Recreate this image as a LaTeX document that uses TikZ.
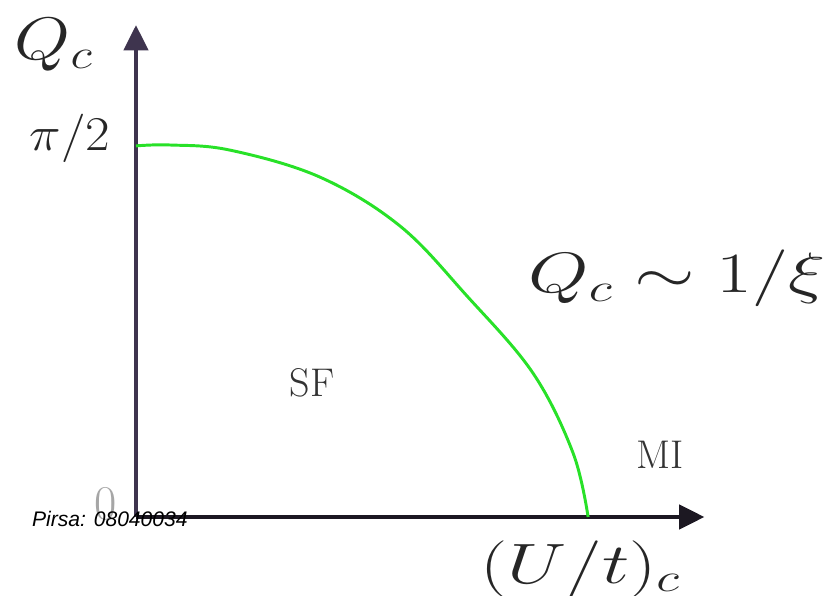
\RequirePackage{fix-cm}
\documentclass[tikz,border=0pt]{standalone}
\usepackage{amsmath, amssymb}
\usepackage{fontspec}
\usepackage{tikz}
\usetikzlibrary{calc, positioning, arrows.meta}
\newfontfamily\pirsafont{Liberation Sans}
\definecolor{axisV}{RGB}{62, 52, 78}
\definecolor{axisH}{RGB}{28, 24, 34}
\definecolor{border}{RGB}{40, 225, 40}
\tikzset{
  axis/.style={line width=4.5pt, -{Triangle[length=0.85cm, width=0.8cm]}},
  biglabel/.style={font=\fontsize{54}{60}\selectfont, inner sep=0pt, text=black!85},
  ticklabel/.style={font=\fontsize{46}{50}\selectfont, inner sep=0pt, text=black!85},
  phase/.style={font=\fontsize{38}{42}\selectfont, inner sep=0pt, text=black!80},
}

\begin{document}
\begin{tikzpicture}[>=Stealth]
  \useasboundingbox (-4.533, -2.6) rectangle (23.1, 17.233);

  % axes
  \coordinate (O) at (0, 0);
  \coordinate (ytop) at (0, 16.4);
  \coordinate (xend) at (18.95, 0);
  \draw[axis, axisV] (O) -- (ytop);
  \draw[axis, axisH] (O) -- (xend);

  % phase boundary
  \draw[line width=2.8pt, border] plot[smooth, tension=0.6] coordinates {
    (0, 12.37) (1.13, 12.4) (3.13, 12.23) (6.13, 11.33) (8.8, 9.7)
    (11.03, 7.37) (13.23, 4.8) (14.57, 2.13) (15.07, 0)};

  % labels
  \node[biglabel, anchor=base, xscale=1.2, font=\fontsize{57}{60}\selectfont] (qc) at (-2.75, 15.25) {$Q_c$};
  \node[ticklabel, anchor=base, xscale=1.1] (half) at (-2.2, 12.23) {$\pi/2$};
  \node[ticklabel, anchor=base, text=black!35] (zero) at (-1.0, -0.1) {$0$};
  \node[biglabel, anchor=base west, xscale=1.37] (law) at (13.07, 7.47) {$Q_c\sim1/\xi$};
  \node[biglabel, anchor=base west, xscale=1.35] (ucrit) at (11.47, -2.2) {$(U/t)_c$};
  \node[phase, anchor=base] (sf) at (5.87, 4.0) {SF};
  \node[phase, anchor=base] (mi) at (17.47, 1.63) {MI};

  \node[anchor=base west, inner sep=0pt, font=\pirsafont\itshape\fontsize{20}{22}\selectfont] (pirsa) at (-3.47, -0.33) {Pirsa: 08040034};
\end{tikzpicture}
\end{document}
